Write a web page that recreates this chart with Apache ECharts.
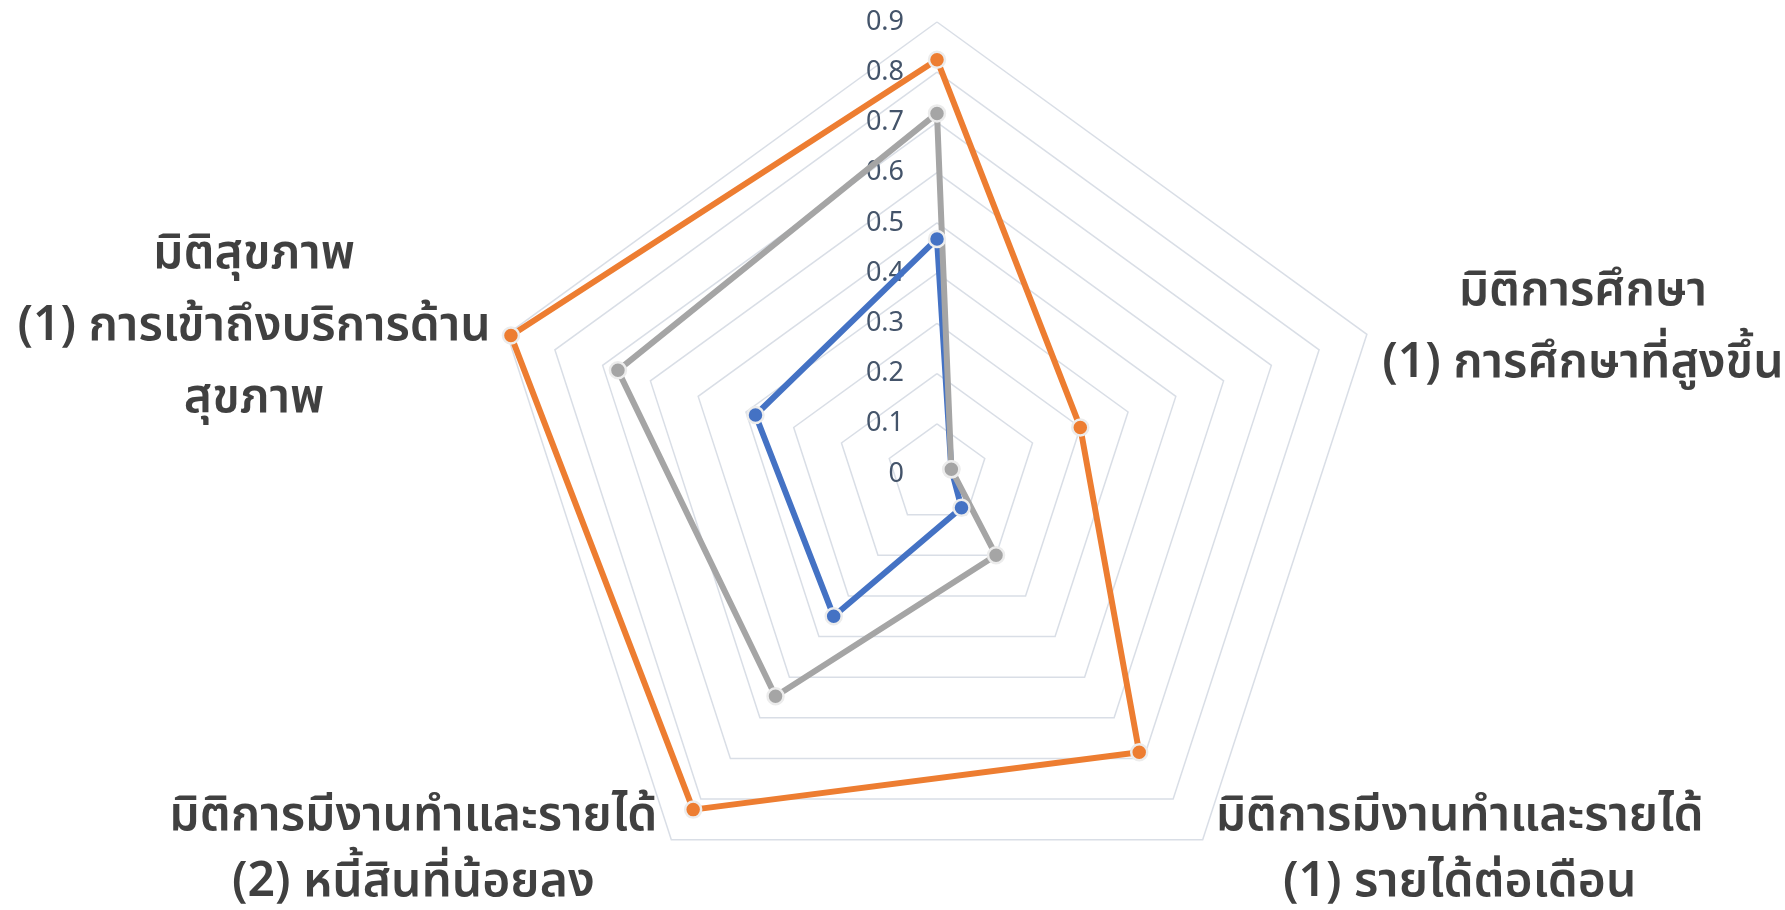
<!DOCTYPE html>
<html><head><meta charset="utf-8">
<script src="https://cdn.jsdelivr.net/npm/echarts@6/dist/echarts.min.js"></script>
<style>html,body{margin:0;padding:0;background:#fff}#c{width:1785px;height:910px}</style>
</head><body><div id="c"></div>
<script>
// Indicators, counter-clockwise from the top
const indicatorNames = [
  '',
  'มิติสุขภาพ\n(1) การเข้าถึงบริการด้าน\nสุขภาพ',
  'มิติการมีงานทำและรายได้\n(2) หนี้สินที่น้อยลง',
  'มิติการมีงานทำและรายได้\n(1) รายได้ต่อเดือน',
  'มิติการศึกษา\n(1) การศึกษาที่สูงขึ้น'
];
const tickLabels = ['0','0.1','0.2','0.3','0.4','0.5','0.6','0.7','0.8','0.9'];
const axisMax = 0.9;
const seriesNames = ['Series 1', 'Series 2', 'Series 3'];
const valuesBlue   = [0.468, 0.38, 0.35, 0.083, 0.03];
const valuesOrange = [0.825, 0.892, 0.826, 0.685, 0.30];
const valuesGray   = [0.718, 0.668, 0.547, 0.20, 0.03];

const nameFont = {fontFamily: '"Noto Sans Thai","Noto Sans",sans-serif', fontSize: 48, fontWeight: 600, color: '#404040', lineHeight: 72};
// per indicator: style key, spacer above (key or null), spacer below (key or null)
const nameLayout = [null,
  {k: 'h', top: null, bottom: 'sp8'},
  {k: 'd', top: 'sp28', bottom: null},
  {k: 'i', top: 'sp28', bottom: null},
  {k: 'e', top: null, bottom: 'sp6'}
];
const rich = {
  h: Object.assign({}, nameFont, {padding: [0, 506, 0, 0]}),
  d: Object.assign({}, nameFont, {lineHeight: 66, padding: [0, 516, 0, 0]}),
  i: Object.assign({}, nameFont, {lineHeight: 66, padding: [0, 0, 0, 514]}),
  e: Object.assign({}, nameFont, {padding: [0, 0, 0, 432]}),
  sp6:  {fontSize: 1, lineHeight: 6},
  sp8:  {fontSize: 1, lineHeight: 8},
  sp28: {fontSize: 1, lineHeight: 28}
};

const indicator = indicatorNames.map((n, idx) => {
  const o = {name: n, min: 0, max: axisMax};
  if (idx === 0) {
    o.axisLabel = {
      show: true,
      color: '#44546A',
      fontFamily: '"Noto Sans",sans-serif',
      fontSize: 27,
      margin: 33,
      padding: [12, 0, 0, 0],
      formatter: (v) => tickLabels[Math.round(v * 10)] ?? ''
    };
  }
  return o;
});

const chart = echarts.init(document.getElementById('c'), null, {renderer: 'canvas'});
chart.setOption({
  animation: false,
  backgroundColor: '#fff',
  radar: {
    center: [937, 474],
    radius: 452,
    startAngle: 90,
    splitNumber: 9,
    shape: 'polygon',
    indicator: indicator,
    nameGap: 0,
    axisName: {
      align: 'center',
      verticalAlign: 'middle',
      color: '#404040',
      fontSize: 48,
      rich: rich,
      formatter: function (value) {
        if (!value) return '';
        const L = nameLayout[indicatorNames.indexOf(value)];
        const lines = value.split('\n').map(ln => '{' + L.k + '|' + ln + '}');
        if (L.top) lines.unshift('{' + L.top + '| }');
        if (L.bottom) lines.push('{' + L.bottom + '| }');
        return lines.join('\n');
      }
    },
    axisLine: {show: false},
    axisTick: {show: false},
    axisLabel: {show: false},
    splitLine: {lineStyle: {color: '#D9DEE6', width: 1.5}},
    splitArea: {show: false}
  },
  series: [{
    type: 'radar',
    symbol: 'circle',
    symbolSize: 16,
    data: [
      {name: seriesNames[0], value: valuesBlue,
       lineStyle: {color: '#4472C4', width: 6}, itemStyle: {color: '#4472C4', borderColor: '#ECECEC', borderWidth: 2.5}},
      {name: seriesNames[1], value: valuesOrange,
       lineStyle: {color: '#ED7D31', width: 6}, itemStyle: {color: '#ED7D31', borderColor: '#ECECEC', borderWidth: 2.5}},
      {name: seriesNames[2], value: valuesGray,
       lineStyle: {color: '#A5A5A5', width: 6}, itemStyle: {color: '#A5A5A5', borderColor: '#ECECEC', borderWidth: 2.5}}
    ]
  }]
});
</script>
</body></html>
